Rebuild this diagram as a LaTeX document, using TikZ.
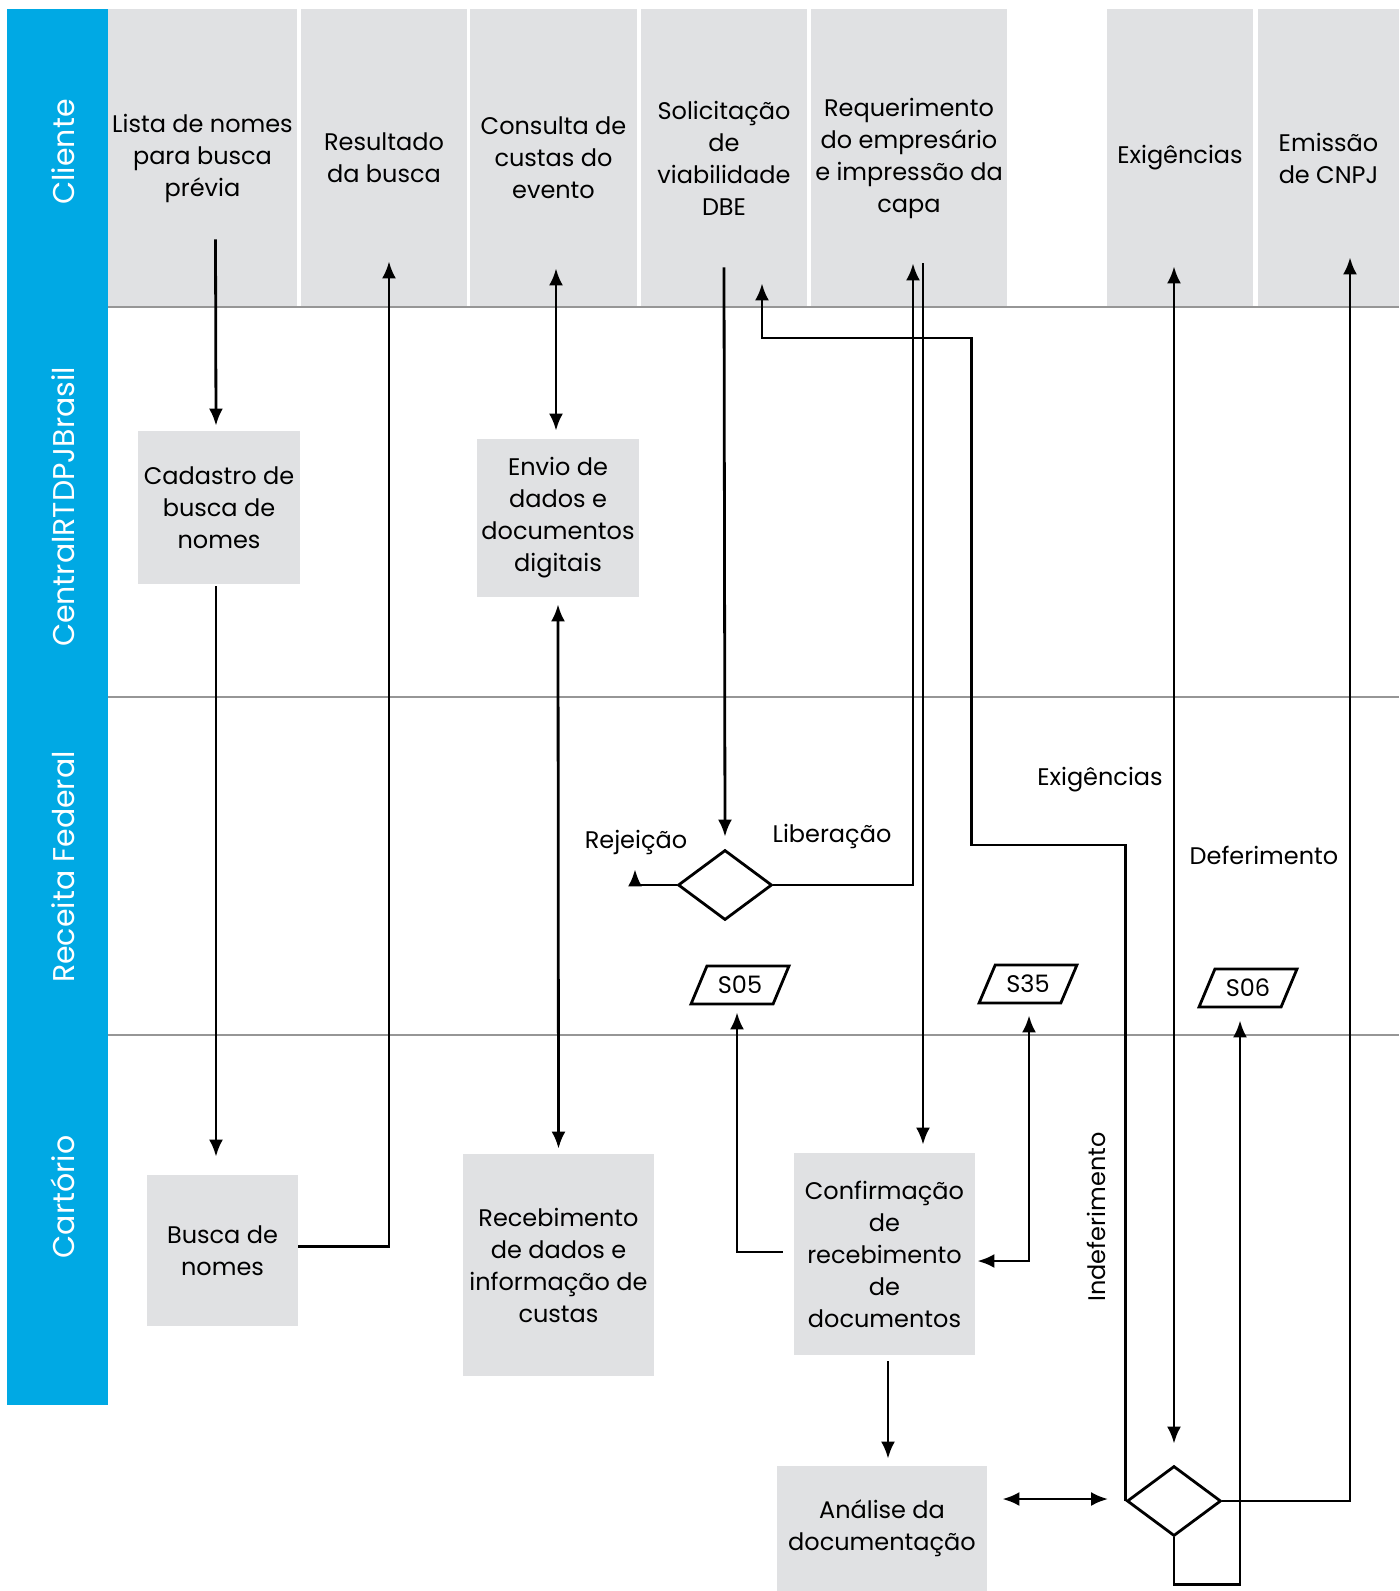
\documentclass[tikz,border=0pt]{standalone}
\usepackage{fontspec}
\setmainfont{Poppins}
\usepackage{tikz}
\usetikzlibrary{shapes,arrows.meta,positioning,calc}
\definecolor{laneblue}{RGB}{0,169,228}
\definecolor{boxgray}{RGB}{224,225,227}
\definecolor{rulegray}{RGB}{150,150,150}

\begin{document}
\begin{tikzpicture}[
    x=0.5pt, y=-0.5pt,
    every node/.style={font=\fontsize{12}{16}\selectfont},
    hbox/.style={fill=boxgray, minimum height=149pt, inner sep=0pt, align=center},
    procbox/.style={fill=boxgray, inner sep=0pt, align=center},
    gatebox/.style={diamond, draw, line width=1.4pt, minimum width=47pt, minimum height=35pt, inner sep=0pt},
    docbox/.style={trapezium, trapezium left angle=62, trapezium right angle=118, trapezium stretches=true,
        draw, line width=1.4pt, minimum width=49pt, minimum height=19pt, inner sep=1pt},
    arrowline/.style={line width=1.4pt, -{Latex[length=8.5pt,width=7pt]}},
    twoway/.style={line width=1.4pt, {Latex[length=8.5pt,width=7pt]}-{Latex[length=8.5pt,width=7pt]}},
    poollbl/.style={text=white, rotate=90, font=\fontsize{15}{18}\selectfont}
]
    \useasboundingbox (0,0) rectangle (1399,1591);
    \fill[white] (0,0) rectangle (1399,1591);

    % pools
    \fill[laneblue] (7,9) rectangle (108,1405);
    \node[poollbl] (pCli) at (63,152) {Cliente};
    \node[poollbl] (pCen) at (63,507) {CentralRTDPJBrasil};
    \node[poollbl] (pRec) at (63,867) {Receita Federal};
    \node[poollbl] (pCar) at (63,1197) {Cartório};

    % client row
    \node[hbox, minimum width=94.5pt] (hA) at (202.5,158) {Lista de nomes\\para busca\\prévia};
    \node[hbox, minimum width=83pt] (hB) at (384,158) {Resultado\\da busca};
    \node[hbox, minimum width=83.5pt] (hC) at (553.5,158) {Consulta de\\custas do\\evento};
    \node[hbox, minimum width=83pt] (hD) at (724,158) {Solicitação\\de\\viabilidade\\DBE};
    \node[hbox, minimum width=98pt] (hE) at (909,158) {Requerimento\\do empresário\\e impressão da\\capa};
    \node[hbox, minimum width=73pt] (hF) at (1180,158) {Exigências};
    \node[hbox, minimum width=70.5pt] (hG) at (1328.5,158) {Emissão\\de CNPJ};

    \draw[rulegray, line width=0.75pt] (108,307) -- (1399,307);
    \draw[rulegray, line width=0.75pt] (108,697) -- (1399,697);
    \draw[rulegray, line width=0.75pt] (108,1035) -- (1399,1035);

    % tasks
    \node[procbox, minimum width=81pt, minimum height=76.5pt] (cad) at (219,507.5) {Cadastro de\\busca de\\nomes};
    \node[procbox, minimum width=81pt, minimum height=79pt] (env) at (558,518) {Envio de\\dados e\\documentos\\digitais};
    \node[procbox, minimum width=75.5pt, minimum height=75.5pt] (bus) at (222.5,1250.5) {Busca de\\nomes};
    \node[procbox, minimum width=95.5pt, minimum height=111pt] (rec) at (558.5,1265) {Recebimento\\de dados e\\informação de\\custas};
    \node[procbox, minimum width=90.5pt, minimum height=101pt] (conf) at (884.5,1254) {Confirmação\\de\\recebimento\\de\\documentos};
    \node[procbox, minimum width=105pt, minimum height=62.5pt] (ana) at (882,1528.5) {Análise da\\documentação};

    % gates and documents
    \node[gatebox] (d1) at (725,885) {};
    \node[gatebox] (d2) at (1174,1501) {};
    \node[docbox] (s05) at (740,985) {S05};
    \node[docbox] (s35) at (1028,984) {S35};
    \node[docbox] (s06) at (1248,988) {S06};

    % labels
    \node (lRej) at (636,842) {Rejeição};
    \node (lLib) at (832,836) {Liberação};
    \node (lExi) at (1100,780) {Exigências};
    \node (lDef) at (1264,855) {Deferimento};
    \node[rotate=90] (lInd) at (1096,1217) {Indeferimento};

    % flows
    \draw[arrowline] ($(hA.south)+(13,-68)$) -- ($(cad.north)+(-3,-5)$);
    \draw[arrowline] ($(cad.south)+(-3,2)$) -- ($(bus.north)+(-6.5,-18)$);
    \draw[arrowline] ([yshift=2pt]bus.east) -| ($(hB.south)+(5,-46)$);
    \draw[twoway] ($(hC.south)+(2.5,-39)$) -- ($(env.north)+(-2,-8)$);
    \draw[twoway] ($(env.south)+(0,7)$) -- ($(rec.north)+(0,-5)$);
    \draw[arrowline] ($(hD.south)+(0,-40)$) -- ($(d1.north)+(0,-12)$);
    \draw[arrowline] (d1.west) -| ($(lRej.south)+(-1,8)$);
    \draw[arrowline] (d1.east) -| ($(hE.south)+(4,-44)$);
    \draw[arrowline] ($(hE.south)+(14,-44)$) -- ($(conf.north)+(38.5,-8)$);
    \draw[arrowline] (d2.west) -- ++(0,-656) -| ++(-154,-507) -| ($(hD.south)+(38,-24)$);
    \draw[twoway] ($(hF.south)+(-6,-41)$) -- ($(d2.north)+(0,-21)$);
    \draw[arrowline] (d2.east) -| ($(hG.south)+(21.5,-50)$);
    \draw[arrowline] (d2.south) -- ++(0,47) -| ($(s06.south)+(-8,12)$);
    \draw[arrowline] ($(conf.west)+(-11,-2)$) -| ($(s05.south)+(-3,7)$);
    \draw[twoway] ($(s35.south)+(1,11)$) |- ($(conf.east)+(2,7)$);
    \draw[arrowline] ($(conf.south)+(3.5,6)$) -- ($(ana.north)+(6,-7)$);
    \draw[twoway] ($(ana.east)+(15,-29.5)$) -- ($(d2.west)+(-17.5,-2)$);
\end{tikzpicture}
\end{document}
